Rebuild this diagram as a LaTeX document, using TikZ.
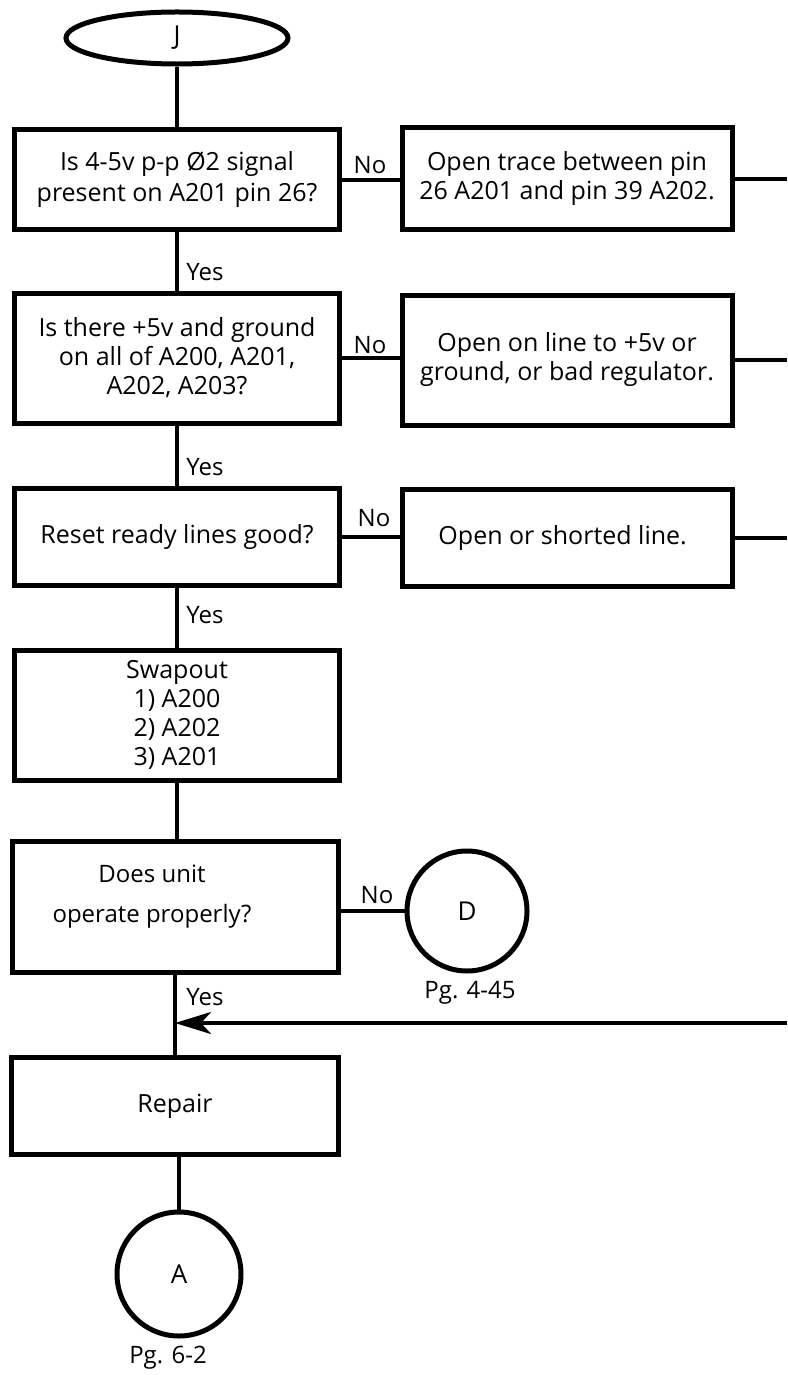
\documentclass[tikz,border=0pt]{standalone}
\usepackage{fontspec}
\setmainfont{Open Sans}
\usepackage{tikz}
\usetikzlibrary{shapes.geometric, arrows.meta, positioning}

\begin{document}
\begin{tikzpicture}[x=0.5pt, y=-0.5pt,
  box/.style={rectangle, draw, line width=2.5pt, align=center,
              minimum width=162.5pt, font=\fontsize{12.5}{14.5}\selectfont},
  term/.style={ellipse, draw, line width=2.5pt, minimum width=111pt,
               minimum height=23.5pt, font=\fontsize{13}{15}\selectfont},
  conn/.style={circle, draw, line width=2.5pt, inner sep=0pt,
               font=\fontsize{13}{15}\selectfont},
  line/.style={line width=1.6pt},
  lbl/.style={font=\fontsize{12}{14}\selectfont},
]
\useasboundingbox (0,0) rectangle (787,1375);

% main column
\node[term] (start) at (177,38) {J};
\node[box, minimum height=50pt, font=\fontsize{12.5}{15.5}\selectfont] (q1) at (177,180)
  {Is 4-5v p-p Ø2 signal\\present on A201 pin 26?};
\node[box, minimum height=65pt] (q2) at (177,358)
  {Is there +5v and ground\\on all of A200, A201,\\A202, A203?};
\node[box, minimum height=48.5pt] (q3) at (177,537) {Reset ready lines good?};
\node[box, minimum height=65pt] (swap) at (177,715)
  {Swapout\\1) A200\\2) A202\\3) A201};
\node[box, minimum height=65.5pt, minimum width=163pt] (q4) at (175,907) {};
\node[font=\fontsize{12}{20}\selectfont, align=center] (q4txt) at (152,897)
  {Does unit\\operate properly?};
\node[box, minimum height=48.5pt, minimum width=163.5pt] (fix) at (175,1106) {Repair};
\node[conn, minimum size=62pt] (pgA) at (179,1274) {A};
\node[lbl] (pgAlbl) at (168,1358) {Pg. 6-2};
\node[conn, minimum size=60pt] (pgD) at (467,911) {D};
\node[lbl] (pgDlbl) at (470,993) {Pg. 4-45};

% "No" answers
\foreach \i/\y/\h/\txt in {
  1/179/51/{Open trace between pin\\26 A201 and pin 39 A202.},
  2/360/65/{Open on line to +5v or\\ground, or bad regulator.},
  3/538/48.5/{Open or shorted line.}
} {
  \node[box, minimum width=165pt, minimum height=\h pt] (a\i) at (567,\y) {\txt};
  \coordinate (e\i) at (787,\y);
  \draw[line, line width=2pt] (q\i.east) -- (q\i.east -| a\i.west);
  \draw[line, line width=2pt] (a\i.east) -- (e\i);
}
\node[lbl] (no1) at (370,165) {No};
\node[lbl] (no2) at (370,345) {No};
\node[lbl] (no3) at (374,518) {No};
\node[lbl] (no4) at (377,895) {No};

% "Yes" path
\draw[line] (start) -- (q1);
\draw[line] (q1) -- (q2);
\draw[line] (q2) -- (q3);
\draw[line] (q3) -- (swap);
\draw[line] (swap.south) -- (swap.south |- q4.north);
\draw[line] (q4.south) -- (fix.north -| q4.south);
\draw[line] (pgA.north |- fix.south) -- (pgA.north);
\draw[line, line width=2pt] (q4.east |- pgD.west) -- (pgD.west);
\node[lbl] (yes1) at (205,272) {Yes};
\node[lbl] (yes2) at (205,467) {Yes};
\node[lbl] (yes3) at (205,615) {Yes};
\node[lbl] (yes4) at (205,997) {Yes};

% return from the fault branches
\coordinate (e4) at (787,1023);
\coordinate (join) at (e4 -| q4.south);
\draw[line, line width=2pt, -{Stealth[length=18pt, width=11pt, inset=5pt]}] (e4) -- (join);
\end{tikzpicture}
\end{document}
